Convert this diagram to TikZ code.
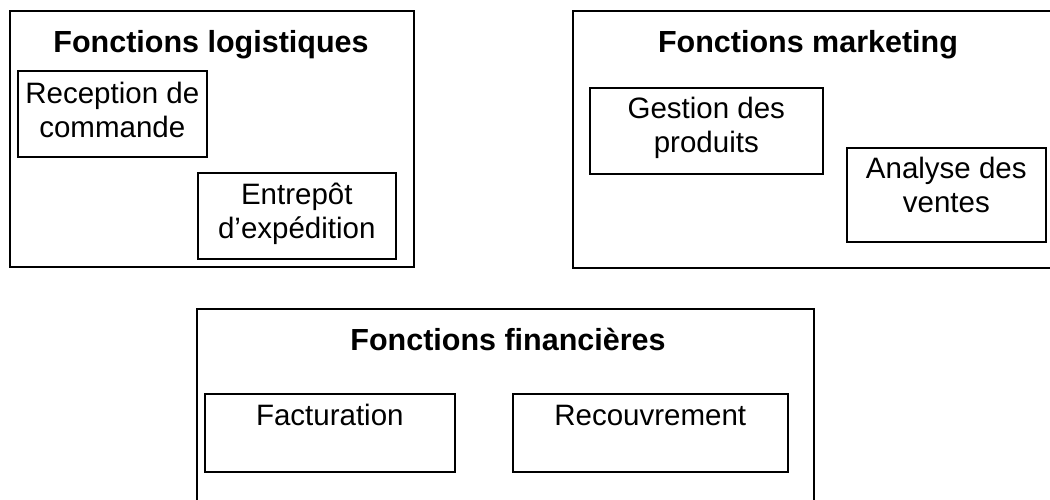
\documentclass[tikz,border=0pt]{standalone}
\usepackage{fontspec}
\setmainfont{Liberation Sans}
\tikzstyle{group} = [rectangle, draw=black, line width=2pt, inner sep=0pt, anchor=north west]
\tikzstyle{grouptitle} = [anchor=base, inner sep=0pt, font=\fontsize{30.5}{36}\selectfont\bfseries]
\tikzstyle{task} = [rectangle, draw=black, line width=1.6pt, inner sep=0pt, anchor=north west, align=center, font=\fontsize{29.5}{34}\selectfont]

\begin{document}
\begin{tikzpicture}[x=1pt, y=-1pt]
  \useasboundingbox (0,0) rectangle (1050,500);

  % logistique
  \node[group, minimum width=404pt, minimum height=256pt] (logi) at (9,10) {};
  \node[grouptitle] (logi_t) at (211,53) {Fonctions logistiques};
  \node[task, minimum width=189pt, text height=67pt, text depth=19pt] (reception) at (17,70) {Reception de\\commande};
  \node[task, minimum width=198pt, text height=66pt, text depth=20pt] (entrepot) at (197,172) {Entrepôt\\d’expédition};

  % marketing
  \node[group, minimum width=490pt, minimum height=257pt] (mkt) at (572,10) {};
  \node[grouptitle] (mkt_t) at (808,53) {Fonctions marketing};
  \node[task, minimum width=233pt, text height=65pt, text depth=21pt] (produits) at (589,87) {Gestion des\\produits};
  \node[task, minimum width=199pt, text height=65pt, text depth=29pt] (ventes) at (846,147) {Analyse des\\ventes};

  % finance
  \node[group, minimum width=617pt, minimum height=220pt] (fin) at (196,308) {};
  \node[grouptitle] (fin_t) at (508,350) {Fonctions financières};
  \node[task, minimum width=250pt, text height=32pt, text depth=46pt] (factu) at (204,393) {Facturation};
  \node[task, minimum width=275pt, text height=32pt, text depth=46pt] (recouv) at (512,393) {Recouvrement};
\end{tikzpicture}
\end{document}
